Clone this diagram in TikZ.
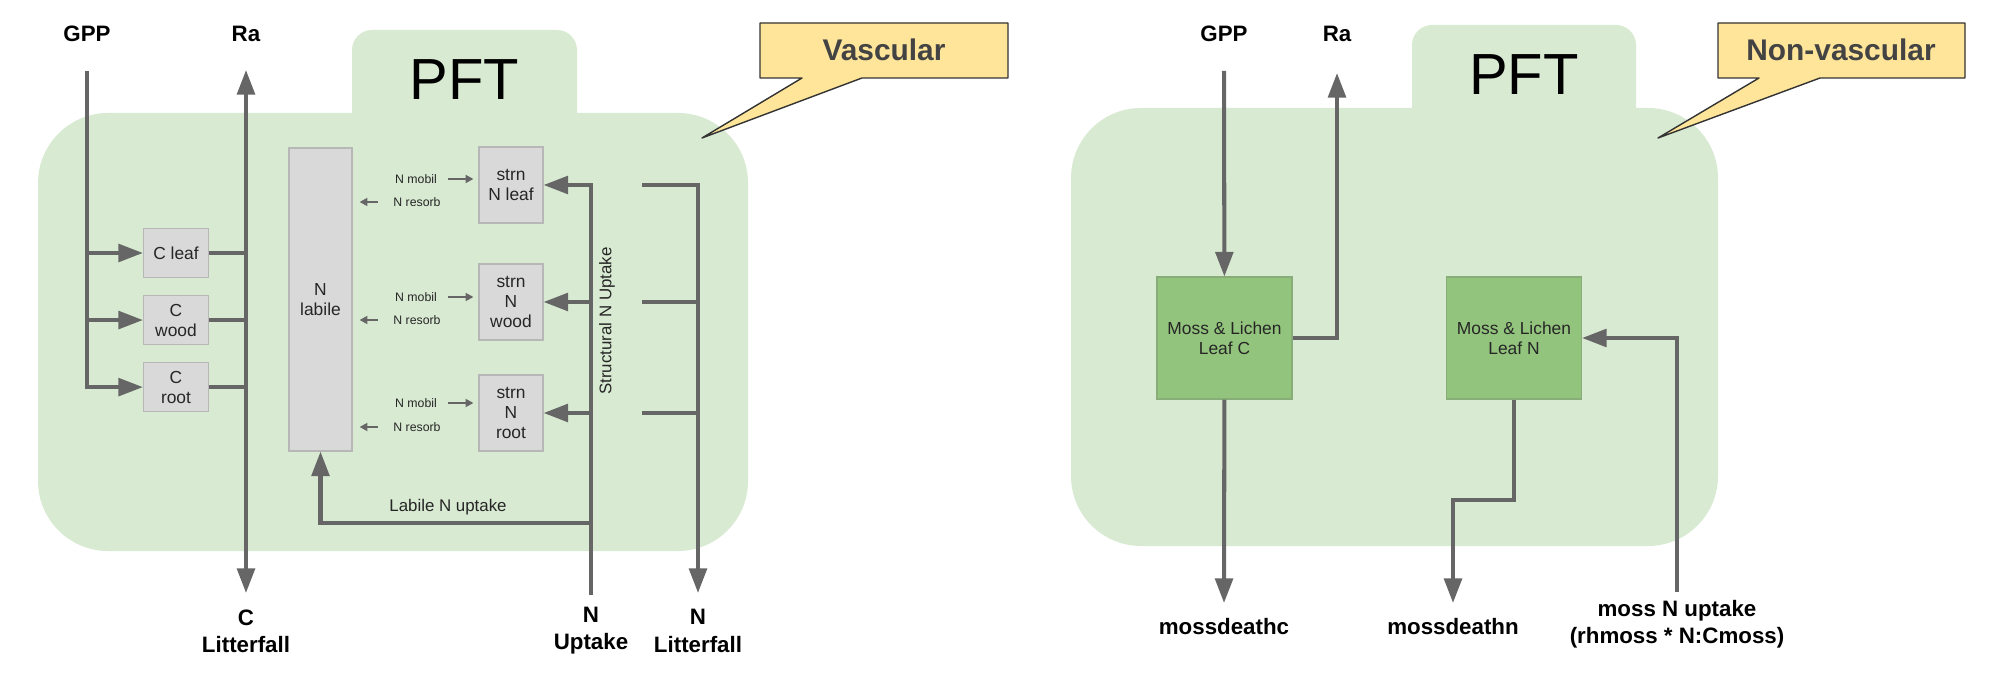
\documentclass[tikz,border=0pt]{standalone}
\usepackage{fontspec}
\setmainfont{Liberation Sans}
\usetikzlibrary{arrows.meta, positioning}
\definecolor{pftbg}{HTML}{D9EAD3}
\definecolor{poolgray}{HTML}{D9D9D9}
\definecolor{poolline}{HTML}{B7B7B7}
\definecolor{mossfill}{HTML}{93C47D}
\definecolor{mossline}{HTML}{88AD78}
\definecolor{flowgray}{HTML}{666666}
\definecolor{notefill}{HTML}{FFE599}
\definecolor{notetext}{HTML}{434343}

\begin{document}
\begin{tikzpicture}[x=0.2mm, y=-0.2mm,
    >={Triangle[length=14pt,width=10pt]},
    flow/.style={draw=flowgray, line width=2.3pt, ->},
    link/.style={draw=flowgray, line width=2.3pt},
    minor/.style={draw=flowgray, line width=1.1pt, -{Triangle[length=4.5pt,width=4.5pt]}},
    pool/.style={draw=poolline, line width=0.6pt, fill=poolgray, inner sep=0pt, align=center, text=black!85, font=\fontsize{9.9}{11.4}\selectfont},
    cpool/.style={pool, minimum width=13mm, minimum height=9.8mm},
    spool/.style={pool, minimum width=12.8mm, minimum height=15.2mm},
    moss/.style={draw=mossline, line width=0.6pt, fill=mossfill, minimum width=27mm, minimum height=24.4mm, inner sep=0pt, align=center, text=black!85, font=\fontsize{9.9}{11.4}\selectfont},
    lbl/.style={align=center, font=\bfseries\fontsize{12.7}{15.5}\selectfont},
    rate/.style={font=\fontsize{7}{8}\selectfont, inner sep=1pt, text=black!85},
    small/.style={font=\fontsize{9.6}{11}\selectfont, text=black!85},
    pft/.style={font=\fontsize{33}{36}\selectfont},
    note/.style={fill=notefill, draw=black!80, line width=0.8pt, line join=round},
    notelbl/.style={text=notetext, font=\bfseries\fontsize{17}{20}\selectfont}]
\useasboundingbox (0,0) rectangle (1999,687);

% vascular PFT
\fill[pftbg, rounded corners=14mm] (38,113) rectangle (748,551);
\fill[pftbg, rounded corners=4mm] (352,160) -- (352,30) -- (577,30) -- (577,160) -- cycle;
\node[pft] (pftv) at (464.5,80) {PFT};
\draw[note] (760,23) -- (1008,23) -- (1008,78) -- (862,78) -- (702,138) -- (802,78) -- (760,78) -- cycle;
\node[notelbl] (vasc) at (884,50) {Vascular};

% carbon pools
\node[lbl] (gpp) at (87,34) {GPP};
\node[lbl] (ra) at (246,34) {Ra};
\node[cpool] (cleaf) at (176,253) {C leaf};
\node[cpool, below=3.4mm of cleaf] (cwood) {C\\wood};
\node[cpool, below=3.4mm of cwood] (croot) {C\\root};
\coordinate (gppin) at (87,71);
\coordinate (raout) at (246,70);
\coordinate (clit) at (246,593);
\draw[flow] (gppin) |- (croot);
\foreach \c in {cleaf,cwood} \draw[flow] (gppin |- \c) -- (\c);
\draw[flow, <->] (clit) -- (raout);
\foreach \c in {cleaf,cwood,croot} \draw[link] (\c) -- (\c -| raout);
\node[lbl] (clitlbl) at (246,631) {C\\Litterfall};

% nitrogen pools
\node[pool, minimum width=12.6mm, minimum height=60.6mm] (nlab) at (320.5,299.5) {N\\labile};
\node[spool] (sleaf) at (511,185) {strn\\N leaf};
\node[spool] (swood) at (511,302) {strn\\N\\wood};
\node[spool] (sroot) at (511,413) {strn\\N\\root};
\foreach \b/\m/\r in {sleaf/179/202, swood/297/320, sroot/403/427} {
  \node[rate] (mob-\b) at (416,\m) {N mobil};
  \node[rate] (res-\b) at (417,\r) {N resorb};
  \draw[minor, shorten <=1.9mm, shorten >=1mm] (mob-\b) -- (mob-\b -| \b.west);
  \draw[minor, shorten <=2.7mm, shorten >=1.4mm] (res-\b) -- (res-\b -| nlab.east);
}
\coordinate (nup) at (591,595);
\coordinate (labin) at (591,523);
\draw[flow] (nup) |- (sleaf);
\foreach \b in {swood,sroot} \draw[flow] (nup |- \b) -- (\b);
\draw[flow] (labin) -| (nlab);
\node[small, rotate=90] (snup) at (607,321) {Structural N Uptake};
\node[small] (lnup) at (448,507) {Labile N uptake};
\coordinate (nlit) at (698,593);
\foreach \b in {sleaf,swood,sroot} \coordinate (drop-\b) at (642,0 |- \b);
\draw[flow] (drop-sleaf) -| (nlit);
\foreach \b in {swood,sroot} \draw[link] (drop-\b) -- (drop-\b -| nlit);
\node[lbl] (nuplbl) at (591,631) {N\\Uptake};
\node[lbl] (nlitlbl) at (698,631) {N\\Litterfall};

% non-vascular PFT
\fill[pftbg, rounded corners=14mm] (1071,108) rectangle (1718,546);
\fill[pftbg, rounded corners=4mm] (1412,160) -- (1412,25) -- (1636,25) -- (1636,160) -- cycle;
\node[pft] (pftn) at (1524,75) {PFT};
\draw[note] (1718,23) -- (1965,23) -- (1965,78) -- (1820,78) -- (1658,138) -- (1759,78) -- (1718,78) -- cycle;
\node[notelbl] (nonvasc) at (1841,50) {Non-vascular};

% moss and lichen
\node[lbl] (gpp2) at (1224,34) {GPP};
\node[lbl] (ra2) at (1337,34) {Ra};
\node[moss] (mlc) at (1224.5,338) {Moss \& Lichen\\Leaf C};
\node[moss] (mln) at (1514,338) {Moss \& Lichen\\Leaf N};
\coordinate (gpp2in) at (1224,71);
\coordinate (ra2out) at (1337,73);
\coordinate (mdc) at (1224,603);
\coordinate (mdn) at (1453,603);
\coordinate (mup) at (1677,592);
\draw[flow] (gpp2in) -- (mlc);
\draw[flow] (mlc) -| (ra2out);
\draw[flow] (mlc) -- (mdc);
\draw[flow] (mln) -- (mln |- 0,500) -| (mdn);
\draw[flow] (mup) |- (mln);
\node[lbl] (mdclbl) at (1224,627) {mossdeathc};
\node[lbl] (mdnlbl) at (1453,627) {mossdeathn};
\node[lbl] (muplbl) at (1677,624) {moss N uptake\\(rhmoss * N:Cmoss)};
\end{tikzpicture}
\end{document}
